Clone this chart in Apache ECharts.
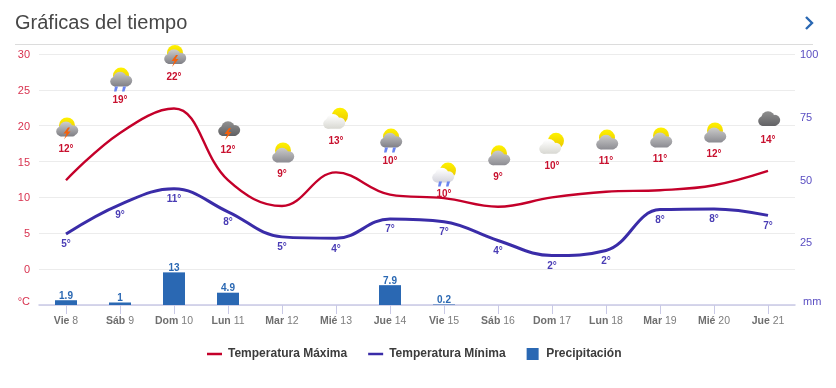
<!DOCTYPE html>
<html><head><meta charset="utf-8">
<style>html,body{margin:0;padding:0;background:#fff}#c{width:836px;height:388px}</style>
<script src="https://cdn.jsdelivr.net/npm/echarts@6/dist/echarts.min.js"></script>
</head><body><div id="c"></div>
<script>
const days = ['Vie 8','Sáb 9','Dom 10','Lun 11','Mar 12','Mié 13','Jue 14','Vie 15','Sáb 16','Dom 17','Lun 18','Mar 19','Mié 20','Jue 21'];
const tempMax = [12.4,19,22.4,12.4,8.8,13.5,10.4,9.9,8.7,10,10.8,11,11.7,13.7];
const tempMin = [4.9,9,11.2,8,4.5,4.3,7,6.6,4,1.9,2.6,8.3,8.4,7.5];
const maxLabels = [12,19,22,12,9,13,10,10,9,10,11,11,12,14];
const minLabels = [5,9,11,8,5,4,7,7,4,2,2,8,8,7];
const maxLabelPos = [16.7,23.5,26.8,16.6,13.2,17.9,15,10.4,12.8,14.4,15,15.3,16,18];
const weather = ['storm','rain','storm','nightstorm','cloud','clear','rain','clearrain','cloud','clear','cloud','cloud','cloud','dark'];
const rainVals = [1.9,1,13,4.9,null,null,7.9,0.2,null,null,null,null,null,null];
const leftTicks = {min:-5,max:30,interval:5};
const rightTicks = {min:0,max:100,interval:25};

const RED='#c4002a', BLUE='#3a2ca8', BAR='#2a68b3';

function grad(c1,c2){return {type:'linear',x:0,y:0,x2:0,y2:1,colorStops:[{offset:0,color:c1},{offset:1,color:c2}]};}
function cloud(x,y,c1,c2){
  const g={type:'linear',global:true,x:0,y:y-7,x2:0,y2:y+7,colorStops:[{offset:0,color:c1},{offset:1,color:c2}]};
  return [
    {type:'circle',shape:{cx:x-6,cy:y+2,r:4.8},style:{fill:g}},
    {type:'circle',shape:{cx:x+6,cy:y+1,r:5.2},style:{fill:g}},
    {type:'circle',shape:{cx:x-1,cy:y-1,r:6.8},style:{fill:g}},
    {type:'rect',shape:{x:x-8,y:y+1,width:16,height:6,r:2},style:{fill:g}}
  ];
}
function sun(x,y){
  return [{type:'circle',shape:{cx:x,cy:y,r:8},style:{fill:grad('#fff200','#e8c400')}}];
}
function bolt(x,y){
  return [{type:'polygon',shape:{points:[[x+1,y-4],[x-3.5,y+2],[x-0.5,y+2],[x-3,y+8],[x+3.5,y+0],[x+0.5,y+0],[x+3,y-4]]},style:{fill:'#f4600c'}}];
}
function drops(x,y){
  return [-4,4].flatMap(d=>[{type:'polygon',shape:{points:[[x+d-1,y],[x+d+2,y],[x+d+0.5,y+5],[x+d-2,y+5]]},style:{fill:'#6a84f0'}}]);
}
function icon(kind,x,y){
  switch(kind){
    case 'storm': return [...sun(x,y-3),...cloud(x,y+1,'#cacaca','#7f7f85'),...bolt(x,y+3)];
    case 'rain': return [...sun(x,y-4),...cloud(x,y,'#c4c4c4','#7f7f86'),...drops(x-1,y+7)];
    case 'nightstorm': return [...cloud(x,y,'#8f8f8f','#5f5f62'),...bolt(x-1,y+3)];
    case 'cloud': return [...sun(x,y-3),...cloud(x,y+2,'#c8c8c8','#8c8c92')];
    case 'clear': return [...sun(x+3,y-4),...cloud(x-3,y+2,'#ffffff','#d8d8d2')];
    case 'clearrain': return [...sun(x+3,y-3),...cloud(x-2,y+2,'#ffffff','#d4d4dc'),...drops(x-1,y+8)];
    default: return cloud(x,y,'#8d8d8d','#626265');
  }
}

const iconData = days.map((d,i)=>[i,maxLabelPos[i],weather[i],maxLabels[i]]);

const chart = echarts.init(document.getElementById('c'),null,{renderer:'canvas'});
chart.setOption({
  animation:false,
  textStyle:{fontFamily:'"Liberation Sans",Arial,sans-serif'},
  title:{text:'Gráficas del tiempo',left:15,top:13,padding:0,textStyle:{fontSize:20,fontWeight:'normal',color:'#474747'}},
  grid:{left:39,right:41,top:54,bottom:83,containLabel:false},
  legend:{
    left:207,top:348,padding:0,itemGap:21,itemWidth:15,itemHeight:12,
    textStyle:{fontSize:12,fontWeight:'bold',color:'#3c3c3c',padding:[0,0,0,1]},
    data:[
      {name:'Temperatura Máxima',icon:'path://M0 0H15V2.5H0Z'},
      {name:'Temperatura Mínima',icon:'path://M0 0H15V2.5H0Z'},
      {name:'Precipitación',icon:'path://M0 0H13V13H0Z'}]
  },
  graphic:[
    {type:'line',shape:{x1:15,y1:44.5,x2:813,y2:44.5},style:{stroke:'#dcdcdc',lineWidth:1}},
    {type:'polyline',shape:{points:[[806,17],[812,23],[806,29]]},style:{stroke:'#2a68b3',lineWidth:2.4,fill:null}}
  ],
  xAxis:{
    type:'category',data:days,boundaryGap:true,
    axisLine:{show:true,onZero:false,lineStyle:{color:'#c9c9e6',width:1.5}},
    axisTick:{show:true,alignWithLabel:true,length:9,lineStyle:{color:'#c9c9e6',width:1}},
    axisLabel:{margin:11,interval:0,formatter:v=>{const p=v.split(' ');return '{b|'+p[0]+'}{n| '+p[1]+'}';},
      rich:{b:{fontSize:10.5,fontWeight:'bold',color:'#6f6f6f'},n:{fontSize:10.5,color:'#7d7d7d'}}}
  },
  yAxis:[
    {type:'value',...leftTicks,position:'left',
      axisLine:{show:false},axisTick:{show:false},
      splitLine:{lineStyle:{color:'#ececec'}},
      axisLabel:{margin:9,fontSize:11,color:'#d8324f',align:'right',
        formatter:v=>v===-5?'{u|°C}':'{t|'+v+'}',
        rich:{u:{fontSize:11,color:'#d8324f',padding:[0,0,7,0]},t:{fontSize:11,color:'#d8324f',padding:[2,0,0,0]}}}},
    {type:'value',...rightTicks,position:'right',
      axisLine:{show:false},axisTick:{show:false},splitLine:{show:false},
      axisLabel:{margin:5,fontSize:11,color:'#5a4ec2',
        formatter:v=>v===0?'{u|mm}':'{t|'+v+'}',
        rich:{u:{fontSize:11,color:'#5a4ec2',padding:[0,0,7,3]},t:{fontSize:11,color:'#5a4ec2',padding:[2,0,0,0]}}}}
  ],
  series:[
    {name:'Precipitación',type:'bar',yAxisIndex:1,data:rainVals,barWidth:22,
      itemStyle:{color:BAR},
      label:{show:true,position:'top',distance:-1,fontSize:10,fontWeight:'bold',color:BAR}},
    {name:'Temperatura Máxima',type:'line',data:tempMax,smooth:0.4,symbol:'none',
      lineStyle:{color:RED,width:2.4},itemStyle:{color:RED}},
    {name:'Temperatura Mínima',type:'line',data:tempMin,smooth:0.4,symbol:'none',
      lineStyle:{color:BLUE,width:3},itemStyle:{color:BLUE}},
    {type:'scatter',data:tempMin.map((v,i)=>[i,v]),symbolSize:1,itemStyle:{opacity:0},silent:true,
      label:{show:true,position:'bottom',distance:5,fontSize:10,fontWeight:'bold',color:'#4a3db5',opacity:1,
        formatter:p=>minLabels[p.dataIndex]+'°'},z:5},
    {type:'custom',data:iconData,silent:true,z:6,
      encode:{x:0,y:1},
      renderItem:(params,api)=>{
        const pt=api.coord([api.value(0),api.value(1)]);
        const k=weather[params.dataIndex];
        return {type:'group',children:[
          ...icon(k,pt[0]+1,pt[1]-21),
          {type:'text',style:{x:pt[0],y:pt[1],text:maxLabels[params.dataIndex]+'°',fill:'#c8102e',
            font:'bold 10px "Liberation Sans",Arial,sans-serif',align:'center',verticalAlign:'middle'}}
        ]};
      }}
  ]
});
</script></body></html>
